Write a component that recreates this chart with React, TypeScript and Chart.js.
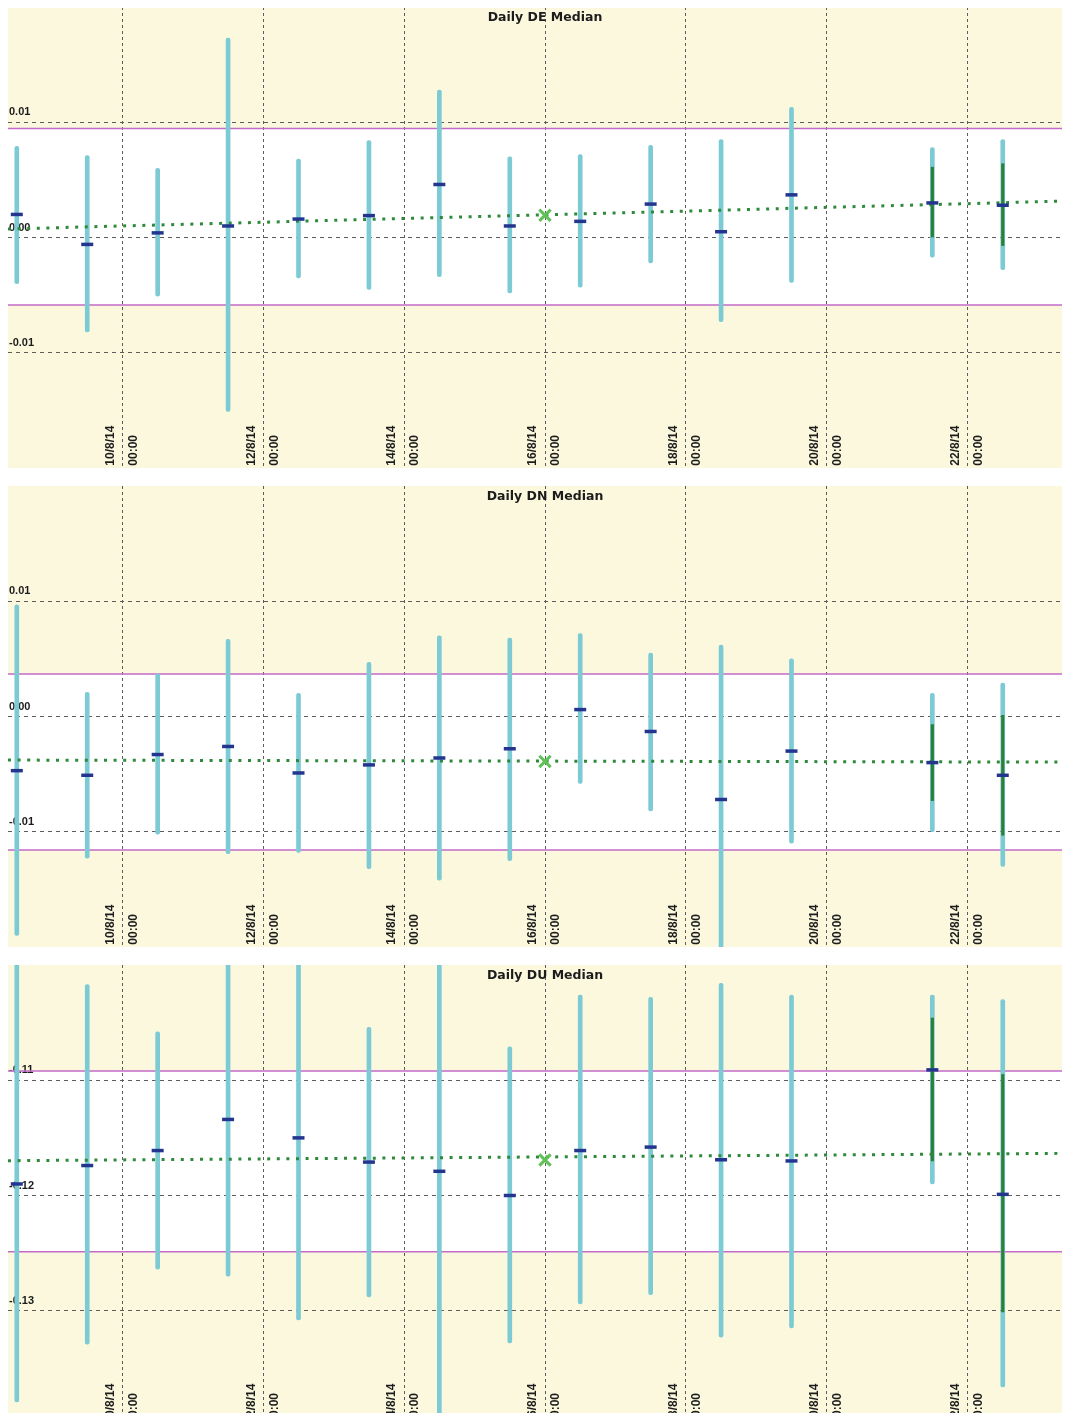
import React, { useEffect, useRef } from 'react';
import { Chart, registerables } from 'chart.js';

Chart.register(...registerables);

// ---------- x axis (day of August 2014, 8.5 = 8/8/14 12:00) ----------
const X_MIN = 8.375;
const X_MAX = 23.625;
const xTickDays = [10, 12, 14, 16, 18, 20, 22];
const xDateLabels = ['10/8/14', '12/8/14', '14/8/14', '16/8/14', '18/8/14', '20/8/14', '22/8/14'];
const xTimeLabels = ['00:00', '00:00', '00:00', '00:00', '00:00', '00:00', '00:00'];

const days = [8.5, 9.5, 10.5, 11.5, 12.5, 13.5, 14.5, 15.5, 16.5, 17.5, 18.5, 19.5, 21.5, 22.5, 23.5];
const innerDays = [21.5, 22.5];
const trendDays = [X_MIN, X_MAX];
const markerDays = [16];

// ---------- Daily DE ----------
const deTitle = 'Daily DE Median';
const deYRange = [-0.02, 0.02];
const deYTicks = [0.01, 0.0, -0.01];
const deYLabels = ['0.01', '0.00', '-0.01'];
const deHigh = [0.0079, 0.0071, 0.006, 0.0173, 0.0068, 0.0084, 0.0128, 0.007, 0.0072, 0.008, 0.0085, 0.0113, 0.0078, 0.0085, 0.009];
const deLow = [-0.004, -0.0082, -0.0051, -0.0151, -0.0035, -0.0045, -0.0034, -0.0048, -0.0043, -0.0022, -0.0073, -0.0039, -0.0017, -0.0028, -0.003];
const deMedian = [0.002, -0.0006, 0.0004, 0.001, 0.0016, 0.0019, 0.0046, 0.001, 0.0014, 0.0029, 0.0005, 0.0037, 0.003, 0.0028, 0.0031];
const deInnerHigh = [0.0061, 0.0064];
const deInnerLow = [0.0, -0.0007];
const deLimits = [0.00946, -0.00586];
const deTrend = [0.00074, 0.0032];
const deMarker = [0.00193];

// ---------- Daily DN ----------
const dnTitle = 'Daily DN Median';
const dnYRange = [-0.02, 0.02];
const dnYTicks = [0.01, 0.0, -0.01];
const dnYLabels = ['0.01', '0.00', '-0.01'];
const dnHigh = [0.0097, 0.0021, 0.0037, 0.0067, 0.002, 0.0047, 0.007, 0.0068, 0.0072, 0.0055, 0.0062, 0.005, 0.002, 0.0029, 0.0053];
const dnLow = [-0.019, -0.0123, -0.0102, -0.0119, -0.0118, -0.0132, -0.0142, -0.0125, -0.0058, -0.0082, -0.021, -0.011, -0.01, -0.013, -0.0125];
const dnMedian = [-0.0047, -0.0051, -0.0033, -0.0026, -0.0049, -0.0042, -0.0036, -0.0028, 0.0006, -0.0013, -0.0072, -0.003, -0.004, -0.0051, -0.0046];
const dnInnerHigh = [-0.0007, 0.0001];
const dnInnerLow = [-0.0073, -0.0103];
const dnLimits = [0.00369, -0.01158];
const dnTrend = [-0.00378, -0.00396];
const dnMarker = [-0.0039];

// ---------- Daily DU ----------
const duTitle = 'Daily DU Median';
const duYRange = [-0.14, -0.1];
const duYTicks = [-0.11, -0.12, -0.13];
const duYLabels = ['-0.11', '-0.12', '-0.13'];
const duHigh = [-0.099, -0.1017, -0.1058, -0.099, -0.099, -0.1054, -0.099, -0.1071, -0.1026, -0.1028, -0.1016, -0.1026, -0.1026, -0.103, -0.1046];
const duLow = [-0.1379, -0.1329, -0.1264, -0.127, -0.1308, -0.1288, -0.143, -0.1328, -0.1294, -0.1286, -0.1323, -0.1315, -0.119, -0.1366, -0.1288];
const duMedian = [-0.119, -0.1174, -0.1161, -0.1134, -0.115, -0.1171, -0.1179, -0.12, -0.1161, -0.1158, -0.1169, -0.117, -0.1091, -0.1199, -0.1168];
const duInnerHigh = [-0.1046, -0.1095];
const duInnerLow = [-0.117, -0.1301];
const duLimits = [-0.1092, -0.12488];
const duTrend = [-0.11698, -0.11633];
const duMarker = [-0.11692];

// ---------- styling ----------
const CANVAS_W = 1074;
const CANVAS_H = 461;
const PANEL_GAP = 18;
const CREAM = '#fbf8de';
const GRID = '#5c5c5c';
const MAGENTA = '#c46ac8';
const CYAN = '#7ccad3';
const DKGREEN = '#2b7f36';
const NAVY = '#24358f';
const TREND = '#2e8a3b';
const XGREEN = '#5fc156';
const TEXT = '#1c1c1c';
const AXIS_FONT = '"Liberation Sans", Arial, sans-serif';
const TITLE_FONT = 'bold 12.5px "DejaVu Sans", Verdana, sans-serif';
const X_FONT_SIZE = 12;
const X_LINE_H = 14.4;
const Y_FONT_SIZE = 11;

const panels = [
  { title: deTitle, yRange: deYRange, yTicks: deYTicks, yLabels: deYLabels, high: deHigh, low: deLow, median: deMedian, innerHigh: deInnerHigh, innerLow: deInnerLow, limits: deLimits, trend: deTrend, marker: deMarker },
  { title: dnTitle, yRange: dnYRange, yTicks: dnYTicks, yLabels: dnYLabels, high: dnHigh, low: dnLow, median: dnMedian, innerHigh: dnInnerHigh, innerLow: dnInnerLow, limits: dnLimits, trend: dnTrend, marker: dnMarker },
  { title: duTitle, yRange: duYRange, yTicks: duYTicks, yLabels: duYLabels, high: duHigh, low: duLow, median: duMedian, innerHigh: duInnerHigh, innerLow: duInnerLow, limits: duLimits, trend: duTrend, marker: duMarker },
];

// title drawn inside the plot area (the original chart overlays it)
const insideTitle = {
  id: 'insideTitle',
  afterDraw(chart: any, _args: any, opts: any) {
    const { ctx, chartArea } = chart;
    ctx.save();
    ctx.font = TITLE_FONT;
    ctx.fillStyle = TEXT;
    ctx.textAlign = 'center';
    ctx.textBaseline = 'alphabetic';
    ctx.fillText(opts.text, (chartArea.left + chartArea.right) / 2, chartArea.top + opts.baseline);
    ctx.restore();
  },
};

function Panel({ spec, index }: { spec: any; index: number }) {
  const ref = useRef<HTMLCanvasElement>(null);

  useEffect(() => {
    const canvas = ref.current as HTMLCanvasElement;
    const mctx = document.createElement('canvas').getContext('2d') as CanvasRenderingContext2D;
    mctx.font = `bold ${X_FONT_SIZE}px ${AXIS_FONT}`;
    const dateW = mctx.measureText(xDateLabels[0]).width;
    const timeW = mctx.measureText(xTimeLabels[0]).width;
    const bottomGap = 2.3;

    const xFont = { family: AXIS_FONT, size: X_FONT_SIZE, weight: 'bold', lineHeight: X_LINE_H / X_FONT_SIZE };
    const yFont = { family: AXIS_FONT, size: Y_FONT_SIZE, weight: 'bold' };
    const setXTicks = (s: any) => { s.ticks = xTickDays.map((v) => ({ value: v })); };
    const flat = (s: any) => {
      if (s.isHorizontal()) s.height = 0; else s.width = 0;
      s.paddingLeft = 0; s.paddingRight = 0; s.paddingTop = 0; s.paddingBottom = 0;
    };

    const chart = new Chart(canvas, {
      type: 'scatter',
      data: {
        datasets: [
          {
            type: 'line', label: 'upper limit',
            data: trendDays.map((d) => ({ x: d, y: spec.limits[0] })),
            borderColor: MAGENTA, borderWidth: 1.5, pointRadius: 0,
            fill: '+1', backgroundColor: '#ffffff', order: 6,
          },
          {
            type: 'line', label: 'lower limit',
            data: trendDays.map((d) => ({ x: d, y: spec.limits[1] })),
            borderColor: MAGENTA, borderWidth: 1.5, pointRadius: 0, fill: false, order: 6,
          },
          {
            type: 'bar', label: 'range',
            data: days.map((d, i) => ({ x: d, y: [spec.low[i], spec.high[i]] })),
            backgroundColor: CYAN, barThickness: 4, borderRadius: 2, borderSkipped: false,
            grouped: false, order: 5,
          },
          {
            type: 'bar', label: 'inner range',
            data: innerDays.map((d, i) => ({ x: d, y: [spec.innerLow[i], spec.innerHigh[i]] })),
            backgroundColor: DKGREEN, barThickness: 2.5, borderSkipped: false,
            grouped: false, order: 4,
          },
          {
            type: 'line', label: 'trend',
            data: trendDays.map((d, i) => ({ x: d, y: spec.trend[i] })),
            borderColor: TREND, borderWidth: 3, borderDash: [3, 6.6], pointRadius: 0,
            fill: false, order: 3,
          },
          {
            type: 'scatter', label: 'median',
            data: days.map((d, i) => ({ x: d, y: spec.median[i] })),
            pointStyle: 'line', pointRadius: 6, borderWidth: 3.5,
            borderColor: NAVY, backgroundColor: NAVY, order: 2,
          },
          {
            type: 'scatter', label: 'marker',
            data: markerDays.map((d, i) => ({ x: d, y: spec.marker[i] })),
            pointStyle: 'crossRot', pointRadius: 8, borderWidth: 3,
            borderColor: XGREEN, backgroundColor: XGREEN, order: 1,
          },
        ],
      },
      plugins: [insideTitle],
      options: {
        animation: false,
        responsive: false,
        events: [],
        layout: { padding: 0, autoPadding: false },
        plugins: {
          legend: { display: false },
          tooltip: { enabled: false },
          title: { display: false },
          filler: { drawTime: 'beforeDraw' },
          insideTitle: { text: spec.title, baseline: 13.5 },
        },
        scales: {
          x: {
            type: 'linear', position: 'bottom', min: X_MIN, max: X_MAX,
            offset: false,
            afterBuildTicks: setXTicks, afterFit: flat,
            grid: { color: GRID, lineWidth: 1, drawTicks: false, offset: false },
            border: { display: false, dash: [3, 3] },
            ticks: {
              autoSkip: false, minRotation: 90, maxRotation: 90, mirror: true,
              padding: bottomGap + dateW, labelOffset: -12 + X_LINE_H,
              font: xFont, color: TEXT,
              callback: (_v: any, i: number) => xDateLabels[i],
            },
          },
          x2: {
            type: 'linear', position: 'bottom', min: X_MIN, max: X_MAX,
            offset: false,
            afterBuildTicks: setXTicks, afterFit: flat,
            grid: { display: false, drawTicks: false, offset: false },
            border: { display: false },
            ticks: {
              autoSkip: false, minRotation: 90, maxRotation: 90, mirror: true,
              padding: bottomGap + timeW, labelOffset: 11 + X_LINE_H,
              font: xFont, color: TEXT,
              callback: (_v: any, i: number) => xTimeLabels[i],
            },
          },
          y: {
            type: 'linear', position: 'left', min: spec.yRange[0], max: spec.yRange[1],
            offset: false, beginAtZero: false,
            afterBuildTicks: (s: any) => { s.ticks = spec.yTicks.map((v: number) => ({ value: v })); },
            afterFit: flat,
            grid: { color: GRID, lineWidth: 1, drawTicks: false, offset: false },
            border: { display: false, dash: [4, 4] },
            ticks: {
              mirror: true, padding: 1, labelOffset: -10,
              font: yFont, color: TEXT,
              callback: (_v: any, i: number) => spec.yLabels[i],
            },
          },
        },
      },
    } as any);
    return () => chart.destroy();
  }, [spec]);

  return (
    <div style={{ width: CANVAS_W, height: CANVAS_H, marginTop: index === 0 ? 0 : PANEL_GAP }}>
      <canvas
        ref={ref}
        width={CANVAS_W}
        height={CANVAS_H}
        style={{ display: 'block', width: CANVAS_W, height: CANVAS_H, background: CREAM }}
      />
    </div>
  );
}

export default function App() {
  useEffect(() => {
    document.documentElement.style.overflow = 'hidden';
    document.body.style.overflow = 'hidden';
  }, []);
  return (
    <div style={{ width: 1062, height: 1415, marginTop: -1, marginBottom: -9, overflow: 'hidden' }}>
      {panels.map((p, i) => (
        <Panel key={i} spec={p} index={i} />
      ))}
    </div>
  );
}
